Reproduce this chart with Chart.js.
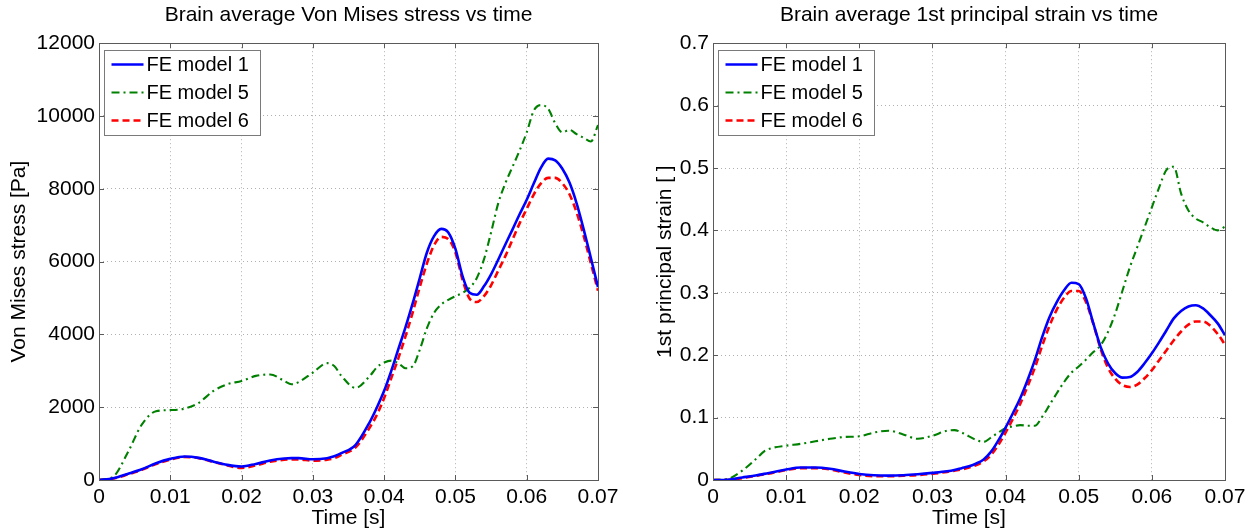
<!DOCTYPE html>
<html>
<head>
<meta charset="utf-8">
<script src="https://cdn.jsdelivr.net/npm/chart.js@4.4.0/dist/chart.umd.min.js"></script>
<style>
    body { margin: 0; background: #fff; }
    #wrap { position: relative; width: 1255px; height: 531px; }
    .panel { position: absolute; top: 0; height: 531px; }
</style>
</head>
<body>
<div id="wrap">
    <div class="panel" style="left:0;width:627px"><canvas id="stress-chart" width="627" height="531"></canvas></div>
    <div class="panel" style="left:627px;width:628px"><canvas id="strain-chart" width="628" height="531"></canvas></div>
</div>
<script>
// Data
const seriesLabels = ['FE model 1', 'FE model 5', 'FE model 6'];

const stressTime = [0, 0.002, 0.004, 0.006, 0.008, 0.010, 0.012, 0.014, 0.016, 0.018, 0.020, 0.022, 0.024, 0.026,
    0.027, 0.028, 0.030, 0.032, 0.033, 0.034, 0.036, 0.038,
    0.039, 0.040, 0.041, 0.042, 0.043, 0.044, 0.045, 0.046, 0.047, 0.048, 0.049, 0.050, 0.051, 0.052, 0.053, 0.054,
    0.055, 0.056, 0.057, 0.058, 0.059, 0.060, 0.061, 0.062, 0.063, 0.064, 0.065, 0.066, 0.067, 0.068, 0.069, 0.070];
const stressModel1 = [0, 46, 166, 295, 460, 580, 645, 608, 507, 415, 369, 442, 535, 590,
    600, 600, 571, 600, 650, 737, 968, 1600,
    2000, 2450, 3000, 3600, 4200, 4850, 5550, 6250, 6700, 6900, 6800, 6350, 5600, 5140, 5090, 5320,
    5650, 6050, 6470, 6880, 7300, 7700, 8150, 8580, 8830, 8780, 8550, 8170, 7600, 6880, 6100, 5300];
const stressModel5 = [0, 90, 740, 1520, 1890, 1920, 1960, 2120, 2440, 2630, 2720, 2860, 2900, 2720,
    2630, 2690, 2950, 3210, 3130, 2860, 2530, 2860,
    3100, 3230, 3280, 3210, 3070, 3120, 3580, 4170, 4590, 4820, 4950, 5050, 5140, 5280, 5550, 6060,
    6800, 7600, 8150, 8600, 9050, 9550, 10150, 10300, 10200, 9800, 9550, 9620, 9500, 9400, 9300, 9750];
const stressModel6 = [0, 40, 150, 280, 440, 560, 630, 600, 500, 400, 330, 400, 500, 555,
    565, 565, 530, 560, 600, 690, 900, 1450,
    1800, 2250, 2800, 3350, 3950, 4600, 5300, 5950, 6450, 6680, 6620, 6250, 5500, 4980, 4890, 5050,
    5350, 5750, 6150, 6600, 7050, 7450, 7850, 8150, 8300, 8300, 8150, 7850, 7350, 6700, 5950, 5200];

const strainTime = [0, 0.002, 0.004, 0.006, 0.007, 0.008, 0.010, 0.012, 0.014, 0.016, 0.018, 0.020, 0.022,
    0.024, 0.026, 0.028, 0.030, 0.032, 0.033, 0.034, 0.035, 0.036, 0.037, 0.038, 0.039, 0.040,
    0.041, 0.042, 0.043, 0.044, 0.045, 0.046, 0.047, 0.048, 0.049, 0.050, 0.051, 0.052, 0.053, 0.054, 0.055,
    0.056, 0.057, 0.058, 0.059, 0.060, 0.061, 0.062, 0.063, 0.064, 0.065, 0.066, 0.067, 0.068, 0.069, 0.070];
const strainModel1 = [0, 0.0005, 0.004, 0.0076, 0.0098, 0.012, 0.0168, 0.020, 0.020, 0.018, 0.0135, 0.0097, 0.0076,
    0.007, 0.0076, 0.0092, 0.0114, 0.014, 0.016, 0.019, 0.022, 0.0265, 0.033, 0.045, 0.063, 0.084,
    0.107, 0.131, 0.160, 0.192, 0.229, 0.261, 0.285, 0.304, 0.316, 0.314, 0.291, 0.251, 0.213, 0.187, 0.171,
    0.164, 0.165, 0.173, 0.187, 0.203, 0.221, 0.240, 0.259, 0.271, 0.278, 0.280, 0.275, 0.264, 0.251, 0.232];
const strainModel5 = [0, 0.0016, 0.015, 0.035, 0.046, 0.051, 0.055, 0.058, 0.062, 0.066, 0.069, 0.070, 0.076,
    0.079, 0.073, 0.066, 0.071, 0.079, 0.080, 0.076, 0.070, 0.064, 0.061, 0.068, 0.076, 0.083,
    0.086, 0.088, 0.087, 0.087, 0.101, 0.120, 0.139, 0.157, 0.172, 0.182, 0.193, 0.205, 0.216, 0.237, 0.267,
    0.304, 0.341, 0.373, 0.405, 0.437, 0.469, 0.497, 0.502, 0.459, 0.432, 0.419, 0.413, 0.405, 0.400, 0.406];
const strainModel6 = [0, 0, 0.003, 0.007, 0.009, 0.011, 0.016, 0.019, 0.019, 0.017, 0.012, 0.008, 0.006,
    0.006, 0.007, 0.008, 0.010, 0.013, 0.015, 0.017, 0.020, 0.024, 0.030, 0.040, 0.056, 0.076,
    0.098, 0.122, 0.150, 0.180, 0.215, 0.247, 0.273, 0.292, 0.303, 0.303, 0.285, 0.250, 0.210, 0.180, 0.162,
    0.152, 0.149, 0.153, 0.163, 0.176, 0.192, 0.208, 0.224, 0.238, 0.249, 0.254, 0.254, 0.247, 0.234, 0.217];

const FONT = "'Liberation Sans', Arial, sans-serif";
const AXIS_COLOR = '#5a5a5a';

// Styl čar jako v MATLABu
const lineStyles = [
    { color: '#0000ff', width: 2.6, dash: [] },
    { color: '#008000', width: 2.1, dash: [8, 4, 2, 4] },
    { color: '#ff0000', width: 2.6, dash: [7, 4] }
];

function toPoints(xs, ys) {
    return xs.map((x, i) => ({ x: x, y: ys[i] }));
}

function makeDatasets(time, series) {
    return series.map((values, i) => ({
        label: seriesLabels[i],
        data: toPoints(time, values),
        borderColor: lineStyles[i].color,
        borderWidth: lineStyles[i].width,
        borderDash: lineStyles[i].dash,
        pointRadius: 0,
        fill: false,
        cubicInterpolationMode: 'monotone'
    }));
}

// Rámeček os + malé tiky dovnitř
const framePlugin = {
    id: 'frame',
    afterDatasetsDraw(chart) {
        const { ctx, chartArea: a, scales } = chart;
        ctx.save();
        ctx.strokeStyle = AXIS_COLOR;
        ctx.lineWidth = 1;
        ctx.setLineDash([]);
        ctx.beginPath();
        scales.x.ticks.forEach(t => {
            const px = Math.round(scales.x.getPixelForValue(t.value)) + 0.5;
            ctx.moveTo(px, a.bottom); ctx.lineTo(px, a.bottom - 5);
            ctx.moveTo(px, a.top); ctx.lineTo(px, a.top + 5);
        });
        scales.y.ticks.forEach(t => {
            const py = Math.round(scales.y.getPixelForValue(t.value)) + 0.5;
            ctx.moveTo(a.left, py); ctx.lineTo(a.left + 5, py);
            ctx.moveTo(a.right, py); ctx.lineTo(a.right - 5, py);
        });
        ctx.stroke();
        ctx.strokeRect(Math.round(a.left) + 0.5, Math.round(a.top) + 0.5,
            Math.round(a.right - a.left), Math.round(a.bottom - a.top));
        ctx.restore();
    }
};

// Legenda v rámečku uvnitř grafu
const boxLegendPlugin = {
    id: 'boxLegend',
    afterDraw(chart) {
        const { ctx, chartArea: a } = chart;
        const bx = Math.round(a.left) + 5.5, by = Math.round(a.top) + 7.5;
        const bw = 156, bh = 85;
        ctx.save();
        ctx.fillStyle = '#fff';
        ctx.fillRect(bx, by, bw, bh);
        ctx.strokeStyle = '#7a7a7a';
        ctx.lineWidth = 1;
        ctx.strokeRect(bx, by, bw, bh);
        ctx.font = '20px ' + FONT;
        ctx.fillStyle = '#000';
        ctx.textBaseline = 'middle';
        chart.data.datasets.forEach((ds, i) => {
            const y = by + 14 + i * 28;
            ctx.beginPath();
            ctx.strokeStyle = ds.borderColor;
            ctx.lineWidth = ds.borderWidth;
            ctx.setLineDash(ds.borderDash);
            ctx.moveTo(bx + 7, y);
            ctx.lineTo(bx + 39, y);
            ctx.stroke();
            ctx.setLineDash([]);
            ctx.fillText(ds.label, bx + 42, y + 1);
        });
        ctx.restore();
    }
};

function buildOptions(cfg) {
    return {
        responsive: false,
        animation: false,
        layout: { padding: { left: 0, right: cfg.padRight, top: 0, bottom: 0 } },
        plugins: {
            legend: { display: false },
            tooltip: { enabled: false },
            title: {
                display: true,
                fullSize: false,
                text: cfg.title,
                color: '#000',
                font: { family: FONT, size: 21, weight: 'normal' },
                padding: { top: 3, bottom: 15 }
            }
        },
        scales: {
            x: {
                type: 'linear',
                min: 0,
                max: 0.07,
                afterFit: s => { s.height = 51; },
                ticks: {
                    stepSize: 0.01,
                    autoSkip: false,
                    maxRotation: 0,
                    padding: 5,
                    color: '#000',
                    font: { family: FONT, size: 21 },
                    callback: v => v === 0 ? '0' : v.toFixed(2)
                },
                grid: { color: '#b0b0b0', lineWidth: 1, drawTicks: false },
                border: { display: false, dash: [1, 3] },
                title: {
                    display: true,
                    text: 'Time [s]',
                    color: '#000',
                    font: { family: FONT, size: 21 },
                    padding: { top: 0, bottom: 0 }
                }
            },
            y: {
                type: 'linear',
                min: 0,
                max: cfg.yMax,
                afterFit: s => { s.width = cfg.yWidth; },
                ticks: {
                    stepSize: cfg.yStep,
                    autoSkip: false,
                    padding: 4,
                    color: '#000',
                    font: { family: FONT, size: 21 },
                    callback: cfg.yFormat
                },
                grid: { color: '#b0b0b0', lineWidth: 1, drawTicks: false },
                border: { display: false, dash: [1, 3] },
                title: {
                    display: true,
                    text: cfg.yTitle,
                    color: '#000',
                    font: { family: FONT, size: 21 },
                    padding: { top: cfg.yTitlePad, bottom: 0 }
                }
            }
        }
    };
}

function drawChart(canvasId, time, series, cfg) {
    const chartCanvas = document.getElementById(canvasId);
    if (!chartCanvas) return;
    if (typeof Chart === 'undefined') {
        console.error('Chart.js není načtený.');
        return;
    }
    chartCanvas._chart = new Chart(chartCanvas.getContext('2d'), {
        type: 'line',
        data: { datasets: makeDatasets(time, series) },
        options: buildOptions(cfg),
        plugins: [framePlugin, boxLegendPlugin]
    });
}

drawChart('stress-chart', stressTime, [stressModel1, stressModel5, stressModel6], {
    title: 'Brain average Von Mises stress vs time',
    yTitle: 'Von Mises stress [Pa]',
    yMax: 12000,
    yStep: 2000,
    yWidth: 99,
    yTitlePad: 7,
    padRight: 29,
    yFormat: v => String(v)
});

drawChart('strain-chart', strainTime, [strainModel1, strainModel5, strainModel6], {
    title: 'Brain average 1st principal strain vs time',
    yTitle: '1st principal strain [ ]',
    yMax: 0.7,
    yStep: 0.1,
    yWidth: 86,
    yTitlePad: 26,
    padRight: 30,
    yFormat: v => v === 0 ? '0' : v.toFixed(1)
});
</script>
</body>
</html>
